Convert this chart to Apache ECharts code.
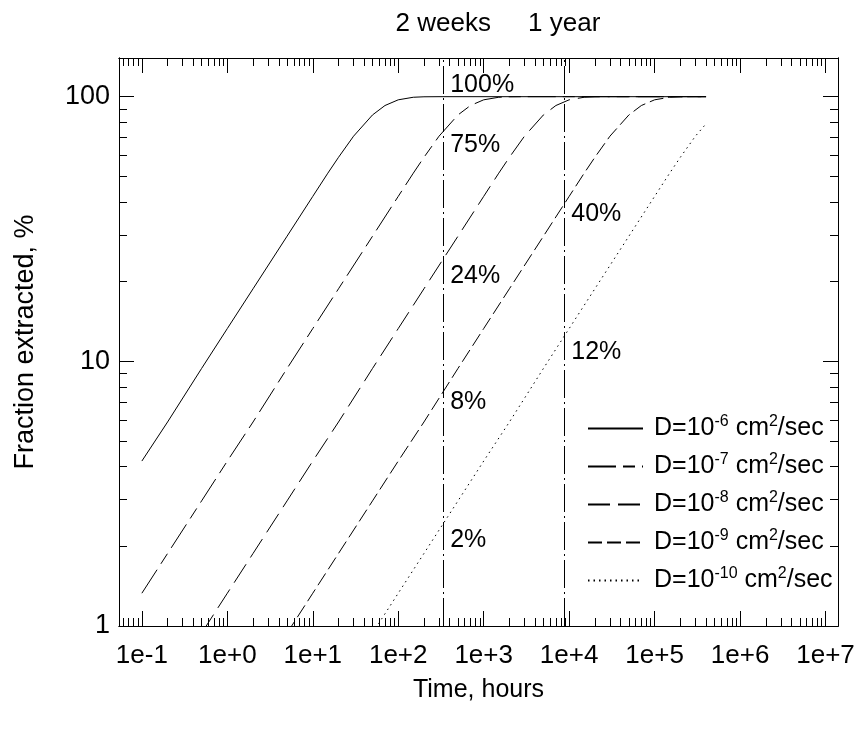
<!DOCTYPE html>
<html>
<head>
<meta charset="utf-8">
<script src="https://cdn.jsdelivr.net/npm/echarts@6/dist/echarts.min.js"></script>
<style>
    html, body { margin: 0; padding: 0; background: #fff; }
    #container { width: 860px; height: 729px; }
</style>
</head>
<body>
<div id="container"></div>
<script>
// axis ranges (time in hours, fraction in %)
var xMin = 0.054, xMax = 1.4e7;
var yMin = 1, yMax = 140;

var xMajor = [0.1, 1, 10, 100, 1e3, 1e4, 1e5, 1e6, 1e7];
var xLabels = ['1e-1', '1e+0', '1e+1', '1e+2', '1e+3', '1e+4', '1e+5', '1e+6', '1e+7'];
var yMajor = [1, 10, 100];
var yLabels = ['1', '10', '100'];

// reference times shown on the top axis
var markTimes = [336, 8760];
var markNames = ['2 weeks', '1 year'];

// D exponents, one curve each
var dExps = [-6, -7, -8, -9, -10];

var t6 = [0.1, 0.2, 0.5, 1, 2, 5, 10, 15, 20, 30, 50, 70, 100, 150, 200, 300, 4e5];
var f6 = [4.2, 5.9, 9.4, 13.3, 18.8, 29.7, 42, 51.4, 59, 70.9, 85.3, 92.6, 97.3, 99.5, 99.9, 100, 100];

var t7 = [0.1, 0.2, 0.5, 1, 2, 5, 10, 20, 50, 100, 150, 200, 300, 500, 700, 1000, 1500, 2000, 3000, 4e5];
var f7 = [1.33, 1.88, 2.97, 4.2, 5.9, 9.4, 13.3, 18.8, 29.7, 42, 51.4, 59, 70.9, 85.3, 92.6, 97.3, 99.5, 99.9, 100, 100];

var t8 = [0.5, 1, 2, 5, 10, 20, 50, 100, 200, 500, 1000, 1500, 2000, 3000, 5000, 7000, 1e4, 1.5e4, 2e4, 3e4, 4e5];
var f8 = [0.94, 1.33, 1.88, 2.97, 4.2, 5.9, 9.4, 13.3, 18.8, 29.7, 42, 51.4, 59, 70.9, 85.3, 92.6, 97.3, 99.5, 99.9, 100, 100];

var t9 = [5, 10, 20, 50, 100, 200, 500, 1000, 2000, 5000, 1e4, 1.5e4, 2e4, 3e4, 5e4, 7e4, 1e5, 1.5e5, 2e5, 3e5, 4e5];
var f9 = [0.94, 1.33, 1.88, 2.97, 4.2, 5.9, 9.4, 13.3, 18.8, 29.7, 42, 51.4, 59, 70.9, 85.3, 92.6, 97.3, 99.5, 99.9, 100, 100];

var t10 = [50, 100, 200, 500, 1000, 2000, 5000, 1e4, 2e4, 5e4, 1e5, 1.5e5, 2e5, 3e5, 4e5];
var f10 = [0.94, 1.33, 1.88, 2.97, 4.2, 5.9, 9.4, 13.3, 18.8, 29.7, 42, 51.4, 59, 70.9, 79];

// percentages written next to the vertical lines
var pctTimes = [336, 336, 336, 336, 336, 8760, 8760];
var pctValues = [100, 75, 24, 8, 2.4, 40, 12];
var pctTexts = ['100%', '75%', '24%', '8%', '2%', '40%', '12%'];


var FONT = 'Liberation Sans, Arial, sans-serif';

function zip(xs, ys) {
    return xs.map(function (x, i) { return [x, ys[i]]; });
}
function minorTicks(lo, hi) {
    var out = [];
    for (var k = Math.floor(Math.log10(lo)); k <= Math.ceil(Math.log10(hi)); k++) {
        for (var d = 2; d <= 9; d++) {
            var v = d * Math.pow(10, k);
            if (v >= lo && v <= hi) out.push(v);
        }
    }
    return out;
}
function pickLabel(v, vals, texts) {
    for (var i = 0; i < vals.length; i++) {
        if (Math.abs(Math.log10(v) - Math.log10(vals[i])) < 1e-6) return texts[i];
    }
    return '';
}

var xMinor = minorTicks(xMin, xMax);
var yMinor = minorTicks(yMin, yMax);

function xAxisOf(pos, ticks, len, labelVals, labelFn, margin, fontSize) {
    return {
        type: 'log', logBase: 10, min: xMin, max: xMax, position: pos,
        axisLine: { show: true, onZero: false, lineStyle: { color: '#000', width: 1 } },
        axisTick: { show: true, inside: true, length: len, customValues: ticks, lineStyle: { color: '#000', width: 1 } },
        axisLabel: labelVals ? { show: true, customValues: labelVals, formatter: labelFn, margin: margin,
            fontSize: fontSize, fontFamily: FONT, color: '#000' } : { show: false },
        splitLine: { show: false }, minorTick: { show: false }
    };
}
function yAxisOf(pos, ticks, len, labelVals, labelFn) {
    return {
        type: 'log', logBase: 10, min: yMin, max: yMax, position: pos,
        axisLine: { show: true, onZero: false, lineStyle: { color: '#000', width: 1 } },
        axisTick: { show: true, inside: true, length: len, customValues: ticks, lineStyle: { color: '#000', width: 1 } },
        axisLabel: labelVals ? { show: true, customValues: labelVals, formatter: labelFn, margin: 9,
            fontSize: 27, fontFamily: FONT, color: '#000' } : { show: false },
        splitLine: { show: false }, minorTick: { show: false }
    };
}

var xAxes = [
    xAxisOf('bottom', xMajor, 15, xMajor, function (v) { return pickLabel(v, xMajor, xLabels); }, 17, 26),
    xAxisOf('bottom', xMinor, 8),
    xAxisOf('top', xMajor, 15),
    xAxisOf('top', xMinor, 8, markTimes, function (v) { return pickLabel(v, markTimes, markNames); }, 21, 26)
];
xAxes[0].name = 'Time, hours';
xAxes[0].nameLocation = 'middle';
xAxes[0].nameGap = 52;
xAxes[0].nameTextStyle = { fontSize: 25, fontFamily: FONT, color: '#000' };

var yAxes = [
    yAxisOf('left', yMajor, 15, yMajor, function (v) { return pickLabel(v, yMajor, yLabels); }),
    yAxisOf('left', yMinor, 8),
    yAxisOf('right', yMajor, 15),
    yAxisOf('right', yMinor, 8)
];
yAxes[0].name = 'Fraction extracted, %';
yAxes[0].nameLocation = 'middle';
yAxes[0].nameGap = 80;
yAxes[0].nameTextStyle = { fontSize: 27, fontFamily: FONT, color: '#000' };

var curveT = [t6, t7, t8, t9, t10];
var curveF = [f6, f7, f8, f9, f10];
var dashes = ['solid', [28, 7, 12, 7], [22, 8], [14, 5], [1.5, 4]];
var names = dExps.map(function (e) { return 'D=10' + e; });

var series = curveT.map(function (t, i) {
    return {
        name: names[i], type: 'line', xAxisIndex: 0, yAxisIndex: 0,
        data: zip(t, curveF[i]), symbol: 'none', smooth: false,
        lineStyle: { color: '#000', width: 1, type: dashes[i] },
        itemStyle: { color: '#000' },
        silent: true, animation: false
    };
});

series[0].markLine = {
    silent: true, symbol: ['none', 'none'], label: { show: false },
    lineStyle: { color: '#000', width: 1, type: [28, 4, 2, 4] },
    data: markTimes.map(function (t) { return { xAxis: t }; })
};

series.push({
    type: 'scatter', xAxisIndex: 0, yAxisIndex: 0, symbolSize: 0, silent: true, animation: false,
    itemStyle: { opacity: 1, color: '#000' },
    data: pctTimes.map(function (t, i) {
        return {
            value: [t, pctValues[i]], name: pctTexts[i],
            label: { offset: i === 0 ? [2, -12] : (i < 5 ? [2, 15] : [2, 12]) }
        };
    }),
    label: {
        show: true, position: 'right', formatter: '{b}',
        fontSize: 25, fontFamily: FONT, color: '#000'
    }
});

var myChart = echarts.init(document.getElementById('container'));
var option = {
    animation: false,
    backgroundColor: '#fff',
    grid: { left: 119, right: 22, top: 58, bottom: 103, containLabel: false },
    xAxis: xAxes,
    yAxis: yAxes,
    legend: {
        data: names, orient: 'vertical', left: 587, top: 414, padding: 0,
        itemWidth: 55, itemHeight: 14, itemGap: 11,
        itemStyle: { color: 'transparent', borderWidth: 0, opacity: 0 },
        formatter: function (name) {
            var e = dExps[names.indexOf(name)];
            return 'D=10{sup|' + e + '} cm{sup|2}/sec';
        },
        textStyle: {
            fontSize: 25, fontFamily: FONT, color: '#000', padding: [0, 0, 0, 6],
            rich: { sup: { fontSize: 16, fontFamily: FONT, color: '#000', padding: [0, 0, 13, 0] } }
        }
    },
    series: series
};
myChart.setOption(option);
</script>
</body>
</html>
